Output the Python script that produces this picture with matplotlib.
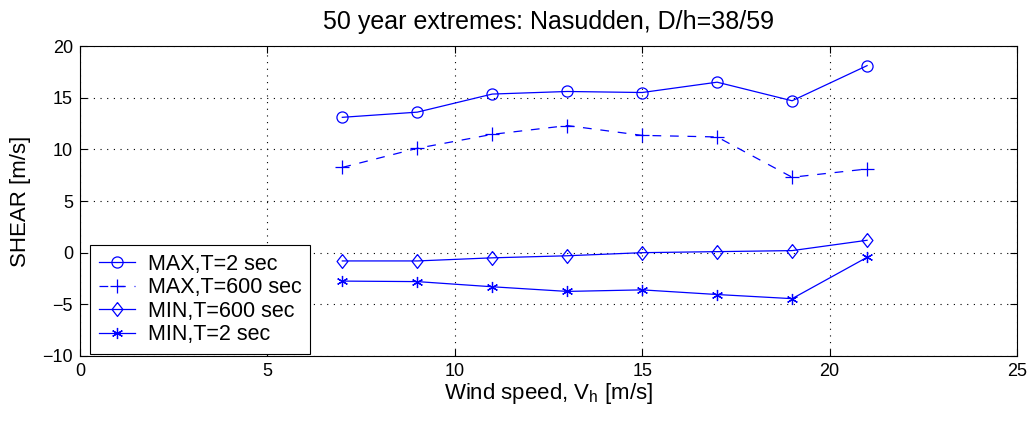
import matplotlib
matplotlib.use("Agg")
import matplotlib.pyplot as plt

plt.rcParams['font.family'] = ['Liberation Sans', 'DejaVu Sans']
plt.rcParams['mathtext.fontset'] = 'custom'
plt.rcParams['mathtext.rm'] = 'Liberation Sans'
plt.rcParams['mathtext.it'] = 'Liberation Sans'

wind = [7, 9, 11, 13, 15, 17, 19, 21]
max_t2 = [13.1, 13.6, 15.35, 15.6, 15.5, 16.5, 14.7, 18.1]
max_t600 = [8.25, 10.1, 11.45, 12.3, 11.35, 11.2, 7.3, 8.1]
min_t600 = [-0.8, -0.8, -0.5, -0.3, 0.0, 0.1, 0.2, 1.2]
min_t2 = [-2.75, -2.8, -3.3, -3.75, -3.6, -4.05, -4.45, -0.45]

xticks = [0, 5, 10, 15, 20, 25]
yticks = [-10, -5, 0, 5, 10, 15, 20]

fig = plt.figure(figsize=(10.33, 4.21), dpi=100)
ax = fig.add_axes([0.0774, 0.1544, 0.9071, 0.7363])

blue = '#0000ff'
diamond = [(0, 1), (0.78, 0), (0, -1), (-0.78, 0), (0, 1)]
ax.plot(wind, max_t2, '-', color=blue, lw=0.9, marker='o', ms=8, mfc='none', mec=blue, mew=0.9, label='MAX,T=2 sec')
ax.plot(wind, max_t600, '--', color=blue, lw=0.9, dashes=(7, 7), marker='+', ms=10, mec=blue, mew=0.9, label='MAX,T=600 sec')
ax.plot(wind, min_t600, '-', color=blue, lw=0.9, marker=diamond, ms=10, mfc='none', mec=blue, mew=0.9, label='MIN,T=600 sec')
ax.plot(wind, min_t2, '-', color=blue, lw=0.9, marker=(6, 2, 0), ms=8, mec=blue, mew=0.9, label='MIN,T=2 sec')

ax.set_xlim(0, 25)
ax.set_ylim(-10, 20)
ax.set_xticks(xticks)
ax.set_yticks(yticks)
ax.tick_params(direction='in', length=5, labelsize=13, top=True, right=True, width=0.8, pad=5)
ax.grid(True, color='black', linestyle=(0, (1, 5)), linewidth=0.8)
for s in ax.spines.values():
    s.set_linewidth(0.8)

ax.set_title('50 year extremes: Nasudden, D/h=38/59', fontsize=18, pad=12)
ax.set_xlabel('Wind speed, V$_\\mathregular{h}$ [m/s]', fontsize=16, labelpad=1)
ax.set_ylabel('SHEAR [m/s]', fontsize=16, labelpad=8)

leg = ax.legend(loc='lower left', bbox_to_anchor=(0.0107, 0.0065), fontsize=15.5, frameon=True,
                fancybox=False, edgecolor='black', framealpha=1, borderaxespad=0.0,
                handlelength=1.7, handletextpad=0.6, labelspacing=0.12, borderpad=0.4)
leg.get_frame().set_linewidth(0.8)

fig.savefig('out.png', dpi=100)
